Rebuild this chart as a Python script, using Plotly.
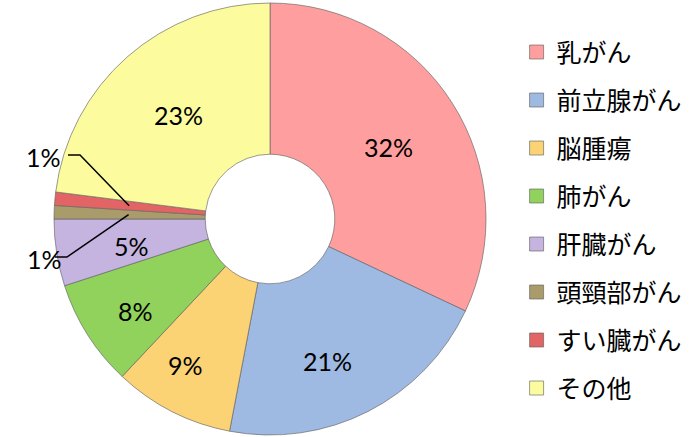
import math
import plotly.graph_objects as go

# ---- data ----
categories = ["乳がん", "前立腺がん", "脳腫瘍", "肺がん", "肝臓がん", "頭頸部がん", "すい臓がん", "その他"]
values = [32, 21, 9, 8, 5, 1, 1, 23]
colors = ["#FF9E9E", "#9EBAE2", "#FBD375", "#90D25C", "#C4B4DF", "#AA9B6B", "#E26464", "#FCFC9E"]
outside_labels = ["頭頸部がん", "すい臓がん"]

# ---- layout settings ----
W, H = 700, 437
cx, cy, R = 270, 219, 216          # pixel geometry of the pie
HOLE = 0.30
FS = 25
LFS = 25
NUM_FONT = "Lato, 'Noto Sans CJK JP', sans-serif"
JP_FONT = "'Noto Sans CJK JP', sans-serif"
# inside label placement: radius (px) and angular nudge (deg) per slice
label_radius = [139, 153, 169, 163, 141, 0, 0, 138]
label_nudge = [1, 5, 3, -2, -2, 0, 0, 0]
# outside labels: (elbow point, text centre) in px
outside_pos = {"すい臓がん": ((80, 155), (43, 157)), "頭頸部がん": ((67, 257), (44, 259))}

fig = go.Figure()
fig.add_trace(go.Pie(
    labels=categories, values=values, sort=False, direction="clockwise",
    rotation=0, hole=HOLE,
    marker=dict(colors=colors, line=dict(color="rgba(100,100,100,0.65)", width=1)),
    textinfo="none", showlegend=False, hoverinfo="label+percent",
    domain=dict(x=[(cx - R) / W, (cx + R) / W], y=[(H - cy - R) / H, (H - cy + R) / H]),
))

# legend via dummy traces (one group each, for spacing)
for c, col in zip(categories, colors):
    fig.add_trace(go.Scatter(
        x=[None], y=[None], mode="markers", name=c, legendgroup=c,
        marker=dict(symbol="square", size=14, color=col,
                    line=dict(color="rgba(90,90,90,0.6)", width=1)),
    ))

total = sum(values)
shapes, annotations = [], []
cum = 0
for i, (c, v) in enumerate(zip(categories, values)):
    mid = 2 * math.pi * (cum + v / 2) / total
    txt = f"{v}%"
    if c in outside_pos:
        r = 0.655 * R
        px, py = cx + r * math.sin(mid), cy - r * math.cos(mid)
        (ex, ey), (tx, ty) = outside_pos[c]
        hx = ex - 12
        path = (f"M {hx / W},{1 - ey / H} L {ex / W},{1 - ey / H} "
                f"L {px / W},{1 - py / H}")
        shapes.append(dict(type="path", xref="paper", yref="paper", path=path,
                           line=dict(color="black", width=1.5)))
    else:
        th = mid + math.radians(label_nudge[i])
        r = label_radius[i]
        tx, ty = cx + r * math.sin(th), cy - r * math.cos(th)
    annotations.append(dict(x=tx / W, y=1 - ty / H, xref="paper", yref="paper",
                            xanchor="center", yanchor="middle",
                            text=txt, showarrow=False,
                            font=dict(family=NUM_FONT, size=FS, color="black")))
    cum += v

fig.update_layout(
    width=W, height=H, margin=dict(l=0, r=0, t=0, b=0),
    paper_bgcolor="white", plot_bgcolor="white",
    xaxis=dict(visible=False), yaxis=dict(visible=False),
    shapes=shapes, annotations=annotations,
    legend=dict(x=0.738, y=0.933, xanchor="left", yanchor="top",
                font=dict(family=JP_FONT, size=LFS, color="black"),
                tracegroupgap=48 - (LFS * 1.3 + 3), traceorder="grouped",
                itemclick=False, itemdoubleclick=False, bgcolor="rgba(0,0,0,0)"),
    showlegend=True,
)

fig.write_html("out.html")
